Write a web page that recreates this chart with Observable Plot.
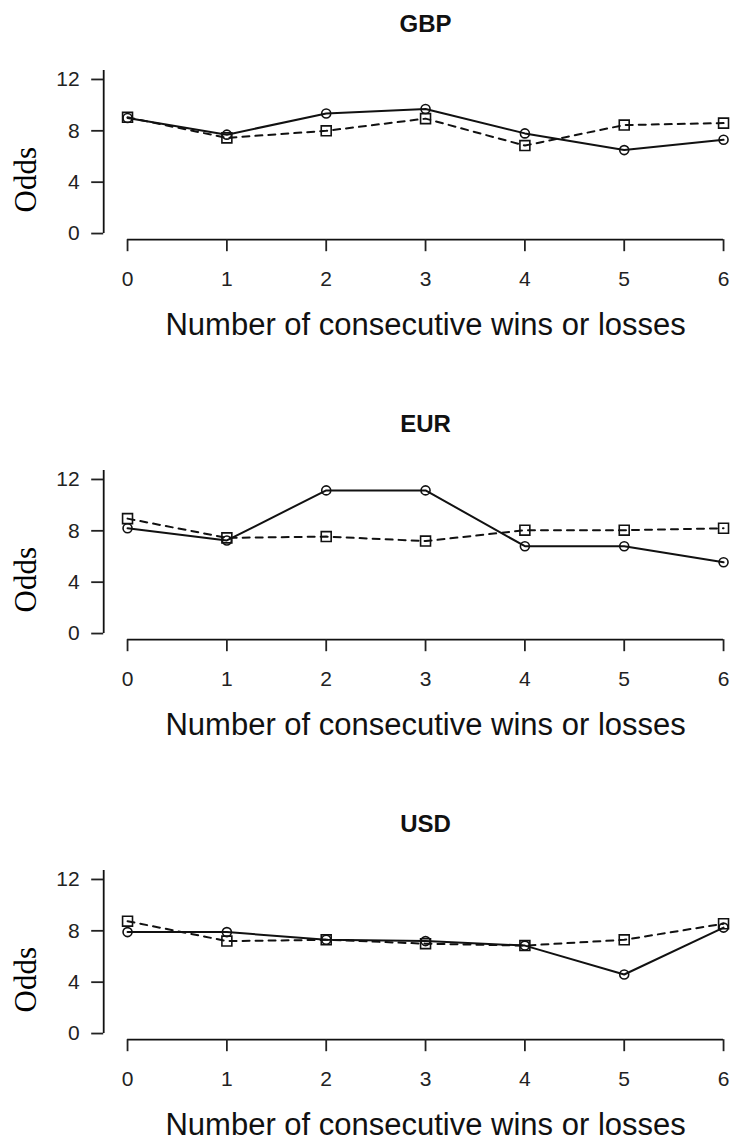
<!DOCTYPE html>
<html><head><meta charset="utf-8">
<script src="https://cdn.jsdelivr.net/npm/d3@7"></script>
<script src="https://cdn.jsdelivr.net/npm/@observablehq/plot@0.6"></script>
<style>body{margin:0;background:#fff} #chart svg{display:block}</style>
</head><body><div id="chart"></div>
<script>
const wins = [0, 1, 2, 3, 4, 5, 6];
const oddsTicks = [0, 4, 8, 12];
const currencies = ["GBP", "EUR", "USD"];
const gbpCircles = [9.0, 7.7, 9.35, 9.7, 7.8, 6.5, 7.3];
const gbpSquares = [9.05, 7.45, 8.0, 8.95, 6.85, 8.45, 8.6];
const eurCircles = [8.2, 7.25, 11.15, 11.15, 6.8, 6.8, 5.55];
const eurSquares = [8.95, 7.45, 7.55, 7.2, 8.05, 8.05, 8.2];
const usdCircles = [7.9, 7.9, 7.3, 7.2, 6.85, 4.6, 8.25];
const usdSquares = [8.75, 7.2, 7.3, 7.0, 6.85, 7.3, 8.55];
const xLabel = "Number of consecutive wins or losses";
const yLabel = "Odds";

const circleSeries = {GBP: gbpCircles, EUR: eurCircles, USD: usdCircles};
const squareSeries = {GBP: gbpSquares, EUR: eurSquares, USD: usdSquares};

const ink = "#111";

function panel(name, height) {
  const circ = wins.map((w, i) => ({w, v: circleSeries[name][i]}));
  const sq = wins.map((w, i) => ({w, v: squareSeries[name][i]}));
  const xDom = [-0.24, 6.08], yDom = [-0.48, 12.48];
  return Plot.plot({
    width: 731, height,
    marginLeft: 103.2, marginRight: 0, marginTop: 72.8, marginBottom: height - 239.2,
    x: {domain: xDom, range: [103.2, 731]},
    y: {domain: yDom, range: [239.2, 72.8]},
    style: {fontFamily: "'Liberation Sans', Arial, sans-serif", background: "#fff", color: "#222"},
    marks: [
      Plot.ruleY([yDom[0]], {x1: wins[0], x2: wins[wins.length - 1], stroke: ink, strokeWidth: 1.8}),
      Plot.ruleX([xDom[0]], {y1: oddsTicks[0], y2: 12.7, stroke: ink, strokeWidth: 1.8}),
      Plot.axisX({ticks: wins, tickSize: 12, tickPadding: 19, fontSize: 21, label: null, tickFormat: d => d, strokeWidth: 1.8, color: "#222"}),
      Plot.axisY({ticks: oddsTicks, tickSize: 12, tickPadding: 12, fontSize: 21, label: null, tickFormat: d => d, strokeWidth: 1.8, color: "#222"}),
      Plot.line(circ, {x: "w", y: "v", stroke: ink, strokeWidth: 2}),
      Plot.line(sq, {x: "w", y: "v", stroke: ink, strokeWidth: 2, strokeDasharray: "7,6"}),
      Plot.dot(circ, {x: "w", y: "v", r: 4.5, symbol: "circle", stroke: ink, fill: "none", strokeWidth: 1.6}),
      Plot.dot(sq, {x: "w", y: "v", r: 5.6, symbol: "square", stroke: ink, fill: "none", strokeWidth: 1.6}),
      Plot.text([name], {text: d => d, frameAnchor: "top", dx: 8, dy: -58, fontSize: 24, fontWeight: "bold", fill: "#111"}),
      Plot.text([xLabel], {text: d => d, frameAnchor: "bottom", dx: 8, dy: 95, fontSize: 31, fill: "#111"}),
      Plot.text([yLabel], {text: d => d, frameAnchor: "left", rotate: -90, dx: -78, dy: 56, fontSize: 31, fill: "#000", fontFamily: "'Liberation Serif', 'Times New Roman', serif"})
    ]
  });
}

const root = document.getElementById("chart");
const heights = [400, 400, 341];
currencies.forEach((c, i) => root.appendChild(panel(c, heights[i])));
</script>
</body></html>
